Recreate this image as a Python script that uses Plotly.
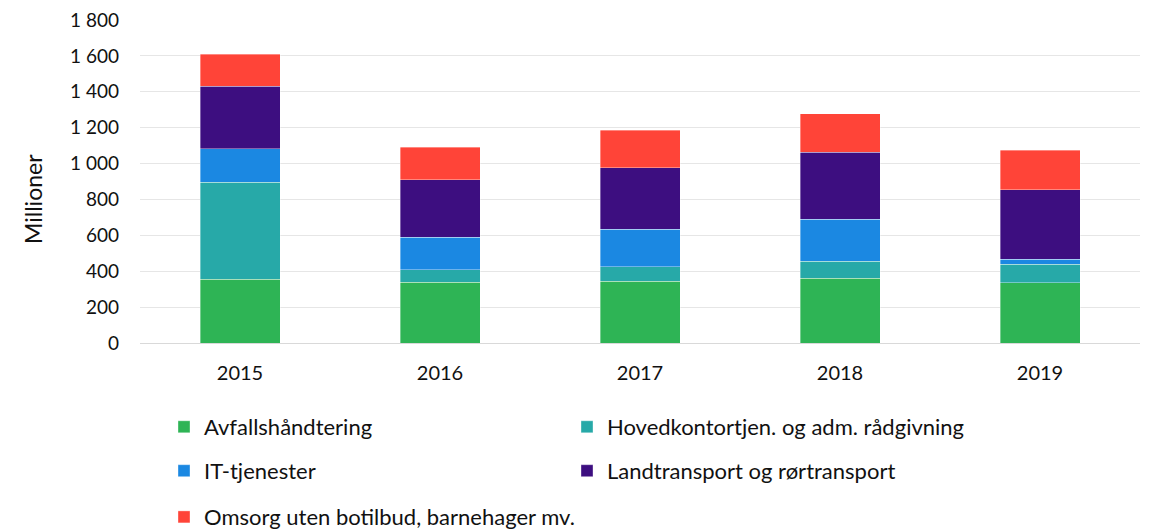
import plotly.graph_objects as go

years = ["2015", "2016", "2017", "2018", "2019"]

avfall = [355, 338, 345, 360, 336]
hovedkontor = [540, 69, 80, 95, 104]
it_tjenester = [187, 182, 210, 234, 28]
landtransport = [350, 321, 342, 373, 386]
omsorg = [178, 182, 208, 215, 221]

series = [
    ("Avfallshåndtering", avfall, "#2EB455", "legend"),
    ("Hovedkontortjen. og adm. rådgivning", hovedkontor, "#27A9A8", "legend"),
    ("IT-tjenester", it_tjenester, "#1B88E2", "legend2"),
    ("Landtransport og rørtransport", landtransport, "#3D0E80", "legend2"),
    ("Omsorg uten botilbud, barnehager mv.", omsorg, "#FF4438", "legend3"),
]

FONT = "Lato"

fig = go.Figure()
for name, vals, color, leg in series:
    fig.add_trace(go.Bar(
        x=years, y=vals, name=name,
        marker=dict(color=color, line=dict(color="rgba(255,255,255,0.45)", width=0.8)),
        legend=leg,
    ))

legend_common = dict(
    orientation="h", xanchor="left", yanchor="middle", x=0.024,
    traceorder="normal", entrywidthmode="pixels",
    font=dict(family=FONT, size=22, color="#111"),
    bgcolor="rgba(0,0,0,0)", itemclick=False,
)

fig.update_layout(
    barmode="stack",
    bargap=0.6,
    width=1162, height=530,
    margin=dict(l=140, r=22, t=20, b=187, autoexpand=False),
    plot_bgcolor="white", paper_bgcolor="white",
    separators=", ",
    font=dict(family=FONT, size=19, color="#111"),
    legend=dict(**legend_common, y=-0.26, entrywidth=358),
    legend2=dict(**legend_common, y=-0.396, entrywidth=358),
    legend3=dict(**legend_common, y=-0.539, entrywidth=560),
    yaxis=dict(
        range=[0, 1800], dtick=200, tickformat=",d",
        showgrid=True, gridcolor="#e6e6e6", gridwidth=1,
        zeroline=True, zerolinecolor="#d9d9d9", zerolinewidth=1,
        ticks="", ticklabelstandoff=20,
        tickfont=dict(family=FONT, size=19),
        automargin=False,
    ),
    xaxis=dict(
        showline=True, linecolor="#d9d9d9", linewidth=1,
        ticks="", ticklabelstandoff=12,
        automargin=False,
        tickfont=dict(family=FONT, size=20),
    ),
    annotations=[dict(
        text="Millioner", textangle=-90, showarrow=False,
        xref="paper", yref="paper", x=-0.107, y=0.446,
        xanchor="center", yanchor="middle",
        font=dict(family=FONT, size=23, color="#111"),
    )],
)

fig.write_html("out.html")
